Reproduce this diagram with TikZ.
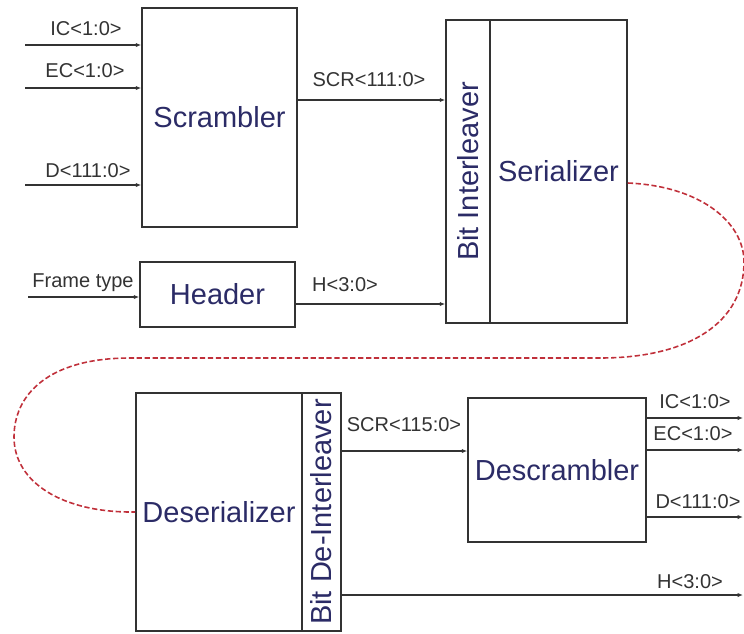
\documentclass[tikz,border=0pt]{standalone}
\usepackage{fontspec}
\setmainfont{Liberation Sans}
\usetikzlibrary{arrows.meta}
\definecolor{boxtext}{HTML}{2B2B66}
\definecolor{sigtext}{HTML}{333333}
\definecolor{linkred}{HTML}{C0303A}
\tikzset{
  blk/.style={draw=black!80,line width=0.9pt,rectangle,inner sep=0pt,text=boxtext,
    font=\fontsize{16.5}{18}\selectfont},
  sig/.style={draw=black!80,line width=0.7pt,-{Latex[length=3pt,width=2.4pt]}},
  lbl/.style={text=sigtext,inner sep=0pt,font=\fontsize{11.4}{13}\selectfont},
  link/.style={draw=linkred,line width=0.9pt,dash pattern=on 3pt off 1.5pt}
}
\begin{document}
\begin{tikzpicture}[x=0.02cm,y=-0.02cm]
  \useasboundingbox (0,0) rectangle (744,633);
  % transmit side
  \node[blk,minimum width=3.1cm,minimum height=4.38cm] (scr) at (219.5,117.5) {Scrambler};
  \node[blk,minimum width=3.1cm,minimum height=1.3cm] (hdr) at (217.5,294.5) {Header};
  \node[blk,minimum width=0.88cm,minimum height=6.06cm] (ilv) at (468,171.5) {};
  \node[blk,minimum width=2.74cm,minimum height=6.06cm] (ser) at (558.5,171.5) {Serializer};
  \node[text=boxtext,font=\fontsize{16.5}{18}\selectfont,rotate=90] (ilvtxt) at (ilv) {Bit Interleaver};
  \coordinate (icin) at (25,45);
  \coordinate (ecin) at (25,88);
  \coordinate (din) at (25,185);
  \coordinate (ftin) at (28,297);
  \draw[sig] (icin) -- (icin -| scr.west);
  \draw[sig] (ecin) -- (ecin -| scr.west);
  \draw[sig] (din) -- (din -| scr.west);
  \draw[sig] (ftin) -- (ftin -| hdr.west);
  \draw[sig] (scr.east |- 0,100) -- (ilv.west |- 0,100);
  \draw[sig] (hdr.east |- 0,304) -- (ilv.west |- 0,304);
  \node[lbl] (iclbl) at (86,29) {IC<1:0>};
  \node[lbl] (eclbl) at (85,71) {EC<1:0>};
  \node[lbl] (dlbl) at (88,171) {D<111:0>};
  \node[lbl] (ftlbl) at (83,283) {Frame type};
  \node[lbl] (scrlbl) at (369,80) {SCR<111:0>};
  \node[lbl] (hlbl) at (345,285) {H<3:0>};
  % receive side
  \node[blk,minimum width=3.32cm,minimum height=4.76cm] (desr) at (219,512) {Deserializer};
  \node[blk,minimum width=0.78cm,minimum height=4.76cm] (dil) at (321.5,512) {};
  \node[text=boxtext,font=\fontsize{16.5}{18}\selectfont,rotate=90] (diltxt) at (dil) {Bit De-Interleaver};
  \node[blk,minimum width=3.56cm,minimum height=2.88cm] (dscr) at (557,470) {Descrambler};
  \coordinate (icout) at (743,418);
  \coordinate (ecout) at (743,450);
  \coordinate (dout) at (743,517);
  \coordinate (hout) at (743,595);
  \draw[sig] (dil.east |- 0,451) -- (dscr.west |- 0,451);
  \draw[sig] (icout -| dscr.east) -- (icout);
  \draw[sig] (ecout -| dscr.east) -- (ecout);
  \draw[sig] (dout -| dscr.east) -- (dout);
  \draw[sig] (hout -| dil.east) -- (hout);
  \node[lbl] (scrrlbl) at (404,425) {SCR<115:0>};
  \node[lbl] (icrlbl) at (695,402) {IC<1:0>};
  \node[lbl] (ecrlbl) at (693,434) {EC<1:0>};
  \node[lbl] (drlbl) at (698,502) {D<111:0>};
  \node[lbl] (hrlbl) at (690,582) {H<3:0>};
  % serial link
  \draw[link] (ser.east) ++(0,11.5) .. controls (700,186) and (744,222) .. (744,262)
    .. controls (744,322) and (690,358) .. (600,358) -- (130,358)
    .. controls (48,358) and (14,395) .. (14,437)
    .. controls (14,482) and (62,513) .. (desr.west);
\end{tikzpicture}
\end{document}
